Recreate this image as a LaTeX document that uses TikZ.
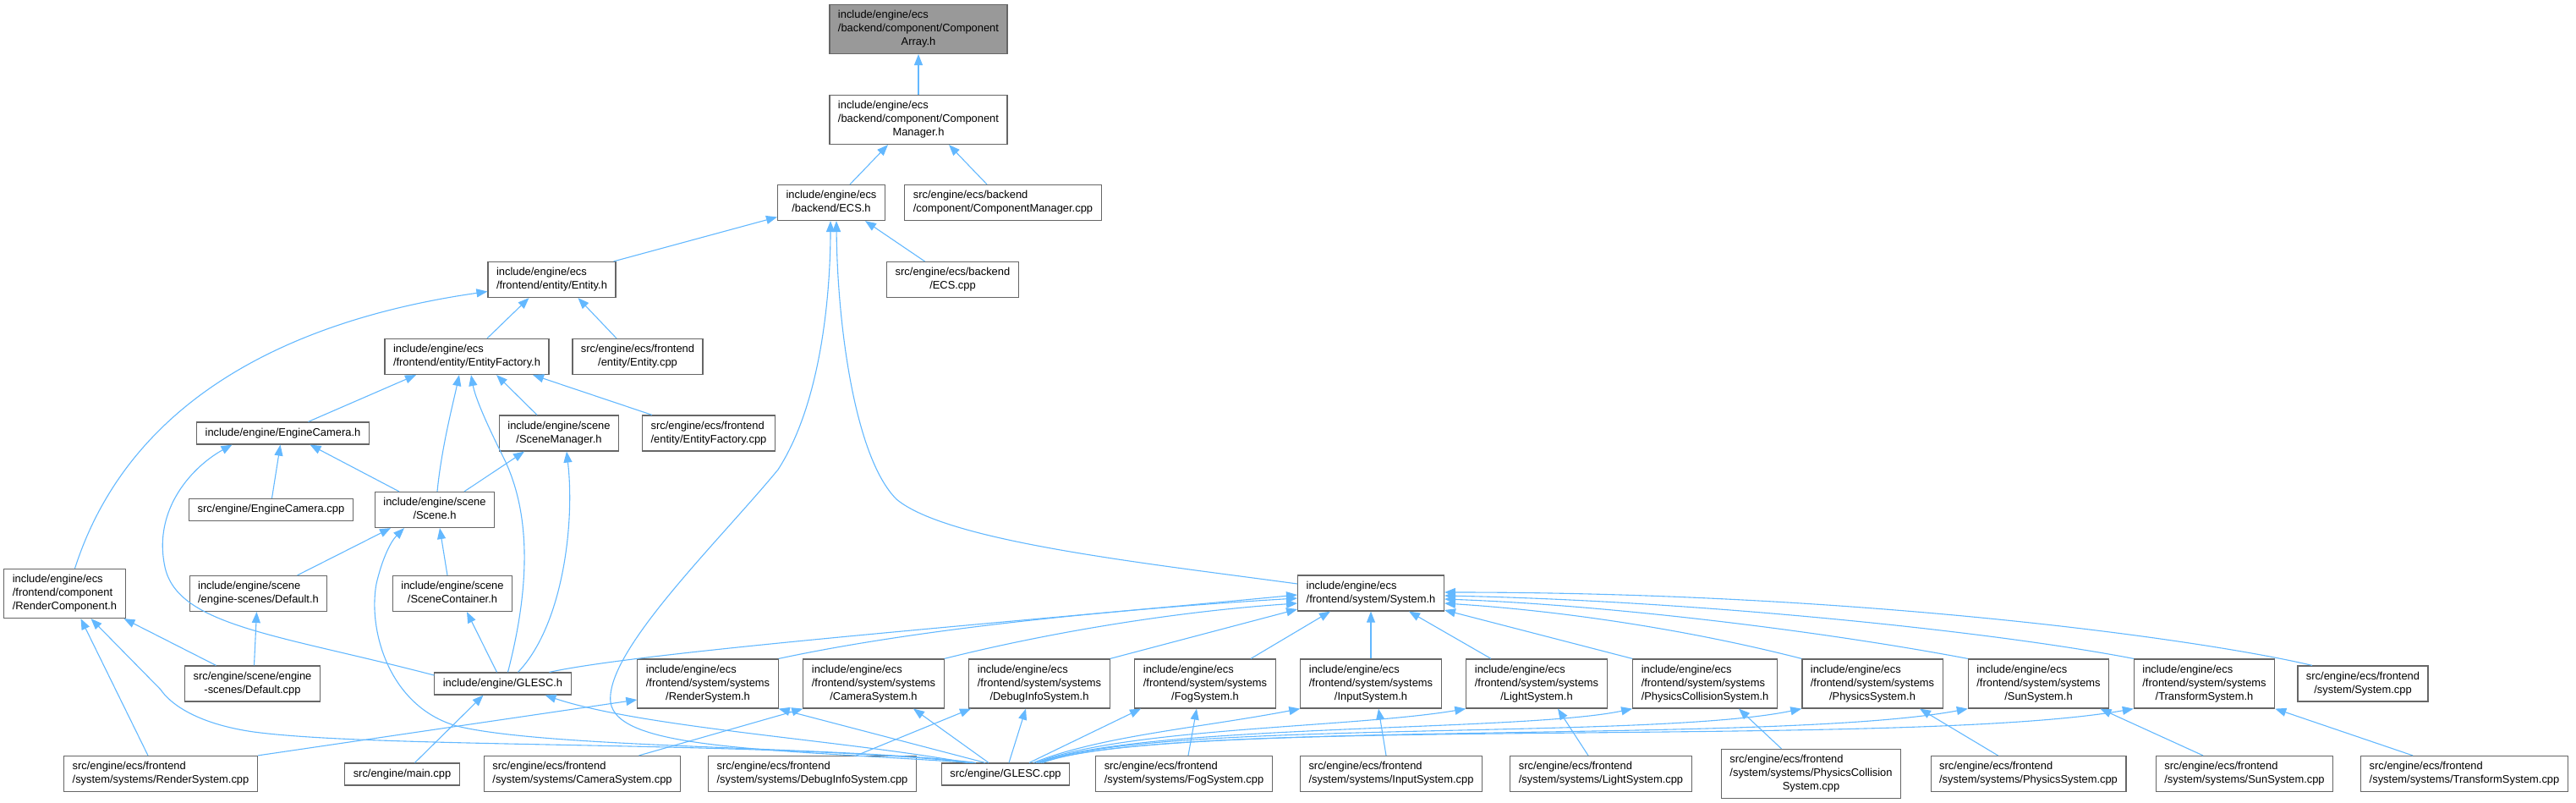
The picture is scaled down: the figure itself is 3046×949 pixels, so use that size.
\documentclass[tikz,border=0pt]{standalone}
\usepackage{fontspec}
\setmainfont{Liberation Sans}
\usepackage{xcolor}
\usetikzlibrary{positioning, arrows.meta}

\definecolor{edgeblue}{HTML}{63B8FF}
\definecolor{boxgray}{HTML}{666666}
\definecolor{curgray}{HTML}{999999}

\newcommand{\fname}[2]{\begin{tabular}{@{}l@{}}#1\\\multicolumn{1}{@{}c@{}}{#2}\end{tabular}}
\newcommand{\sname}[1]{\begin{tabular}{@{}c@{}}#1\end{tabular}}

\begin{document}
\begin{tikzpicture}[x=1pt, y=-1pt,
  file/.style={draw=boxgray, line width=1.2pt, fill=white, inner xsep=10pt, inner ysep=5pt, font={\fontsize{12.9}{16}\selectfont}},
  curfile/.style={file, fill=curgray},
  inc/.style={draw=edgeblue, line width=1.1pt, -{Triangle[length=13pt,width=10pt]}}]

\useasboundingbox (0,0) rectangle (3046,949);

\node[curfile] (carr) at (1086,34.5) {\fname{include/engine/ecs\\/backend/component/Component}{Array.h}};
\node[file] (cmgr) at (1086,141.5) {\fname{include/engine/ecs\\/backend/component/Component}{Manager.h}};
\node[file] (ecsh) at (983,239.5) {\fname{include/engine/ecs}{/backend/ECS.h}};
\node[file] (cmgrcpp) at (1186,239.5) {\fname{src/engine/ecs/backend}{/component/ComponentManager.cpp}};
\node[file] (ecscpp) at (1126.5,330.5) {\fname{src/engine/ecs/backend}{/ECS.cpp}};
\node[file] (enth) at (652.5,330.5) {\fname{include/engine/ecs}{/frontend/entity/Entity.h}};
\node[file] (efh) at (552,421.5) {\fname{include/engine/ecs}{/frontend/entity/EntityFactory.h}};
\node[file] (entcpp) at (754,421.5) {\fname{src/engine/ecs/frontend}{/entity/Entity.cpp}};
\node[file] (camh) at (334.5,512) {\sname{include/engine/EngineCamera.h}};
\node[file] (smh) at (661,512) {\fname{include/engine/scene}{/SceneManager.h}};
\node[file] (efcpp) at (838,512) {\fname{src/engine/ecs/frontend}{/entity/EntityFactory.cpp}};
\node[file] (camcpp) at (320.5,602.5) {\sname{src/engine/EngineCamera.cpp}};
\node[file] (sceneh) at (514,602.5) {\fname{include/engine/scene}{/Scene.h}};
\node[file] (rcomph) at (76.5,701.5) {\fname{include/engine/ecs\\/frontend/component}{/RenderComponent.h}};
\node[file] (defh) at (305.5,701.5) {\fname{include/engine/scene}{/engine-scenes/Default.h}};
\node[file] (sconth) at (535,701.5) {\fname{include/engine/scene}{/SceneContainer.h}};
\node[file] (sysh) at (1621,701) {\fname{include/engine/ecs}{/frontend/system/System.h}};
\node[file] (defcpp) at (298.5,808) {\fname{src/engine/scene/engine}{-scenes/Default.cpp}};
\node[file] (glh) at (594.5,808) {\sname{include/engine/GLESC.h}};

\node[file] (rsh) at (837,808) {\fname{include/engine/ecs\\/frontend/system/systems}{/RenderSystem.h}};
\node[file] (csh) at (1033,808) {\fname{include/engine/ecs\\/frontend/system/systems}{/CameraSystem.h}};
\node[file] (dih) at (1229,808) {\fname{include/engine/ecs\\/frontend/system/systems}{/DebugInfoSystem.h}};
\node[file] (fsh) at (1425,808) {\fname{include/engine/ecs\\/frontend/system/systems}{/FogSystem.h}};
\node[file] (ish) at (1621,808) {\fname{include/engine/ecs\\/frontend/system/systems}{/InputSystem.h}};
\node[file] (lsh) at (1817,808) {\fname{include/engine/ecs\\/frontend/system/systems}{/LightSystem.h}};
\node[file] (pch) at (2016,808) {\fname{include/engine/ecs\\/frontend/system/systems}{/PhysicsCollisionSystem.h}};
\node[file] (psh) at (2214,808) {\fname{include/engine/ecs\\/frontend/system/systems}{/PhysicsSystem.h}};
\node[file] (ssh) at (2410.5,808) {\fname{include/engine/ecs\\/frontend/system/systems}{/SunSystem.h}};
\node[file] (tsh) at (2606.5,808) {\fname{include/engine/ecs\\/frontend/system/systems}{/TransformSystem.h}};
\node[file] (syscpp) at (2794,808) {\fname{src/engine/ecs/frontend}{/system/System.cpp}};

\node[file] (rscpp) at (190,914.5) {\fname{src/engine/ecs/frontend}{/system/systems/RenderSystem.cpp}};
\node[file] (maincpp) at (475.5,915) {\sname{src/engine/main.cpp}};
\node[file] (cscpp) at (688.5,914.5) {\fname{src/engine/ecs/frontend}{/system/systems/CameraSystem.cpp}};
\node[file] (dicpp) at (960.5,914.5) {\fname{src/engine/ecs/frontend}{/system/systems/DebugInfoSystem.cpp}};
\node[file] (glcpp) at (1189,915) {\sname{src/engine/GLESC.cpp}};
\node[file] (fscpp) at (1400,914.5) {\fname{src/engine/ecs/frontend}{/system/systems/FogSystem.cpp}};
\node[file] (iscpp) at (1645,914.5) {\fname{src/engine/ecs/frontend}{/system/systems/InputSystem.cpp}};
\node[file] (lscpp) at (1893,914.5) {\fname{src/engine/ecs/frontend}{/system/systems/LightSystem.cpp}};
\node[file] (pccpp) at (2141.5,914.5) {\fname{src/engine/ecs/frontend\\/system/systems/PhysicsCollision}{System.cpp}};
\node[file] (pscpp) at (2398.5,914.5) {\fname{src/engine/ecs/frontend}{/system/systems/PhysicsSystem.cpp}};
\node[file] (sscpp) at (2654,914.5) {\fname{src/engine/ecs/frontend}{/system/systems/SunSystem.cpp}};
\node[file] (tscpp) at (2914,914.5) {\fname{src/engine/ecs/frontend}{/system/systems/TransformSystem.cpp}};

\draw[inc] (cmgr) -- (carr);
\draw[inc] ([xshift=22pt]ecsh.north) -- ([xshift=-36pt]cmgr.south);
\draw[inc] ([xshift=-19pt]cmgrcpp.north) -- ([xshift=36pt]cmgr.south);
\draw[inc] ([xshift=-3pt]enth.north east) -- ([yshift=-17pt]ecsh.west);
\draw[inc] ([xshift=-33pt]ecscpp.north) -- ([xshift=40pt]ecsh.south);
\draw[inc] ([xshift=-40pt]glcpp.north) .. controls (900,885) and (730,885) .. (722,830) .. controls (715,770) and (850,640) .. (920,555) .. controls (975,470) and (982,330) .. ([xshift=-1pt]ecsh.south);
\draw[inc] ([yshift=11pt]sysh.west) .. controls (1350,665) and (1120,640) .. (1060,590) .. controls (1010,540) and (990,380) .. ([xshift=6pt]ecsh.south);

\draw[inc] ([xshift=24pt]efh.north) -- ([xshift=-27pt]enth.south);
\draw[inc] ([xshift=-25pt]entcpp.north) -- ([xshift=31pt]enth.south);
\draw[inc] ([xshift=12pt]rcomph.north) .. controls (150,480) and (330,380) .. ([yshift=-14pt]enth.west);

\draw[inc] ([xshift=30pt]camh.north) -- ([xshift=-60pt]efh.south);
\draw[inc] ([xshift=3pt]sceneh.north) .. controls (522,530) and (535,480) .. ([xshift=-9pt]efh.south);
\draw[inc] ([xshift=6pt]glh.north) .. controls (625,700) and (630,610) .. (595,540) .. controls (575,500) and (562,470) .. ([xshift=5pt]efh.south);
\draw[inc] ([xshift=-26pt]smh.north) -- ([xshift=35pt]efh.south);
\draw[inc] ([xshift=-67pt]efcpp.north) -- ([xshift=78pt]efh.south);

\draw[inc] ([xshift=1pt]camcpp.north) -- ([xshift=-3pt]camh.south);
\draw[inc] ([xshift=-42pt]sceneh.north) -- ([xshift=32pt]camh.south);
\draw[inc] ([yshift=10pt]glh.west) .. controls (330,750) and (210,740) .. (195,670) .. controls (180,600) and (230,550) .. ([xshift=-60pt]camh.south);
\draw[inc] ([xshift=35pt]sceneh.north) -- ([xshift=-41pt]smh.south);
\draw[inc] ([xshift=18pt]glh.north) .. controls (665,740) and (680,620) .. ([xshift=9pt]smh.south);

\draw[inc] ([xshift=46pt]defh.north) -- ([xshift=-52pt]sceneh.south);
\draw[inc] ([xshift=-6pt]sconth.north) -- ([xshift=6pt]sceneh.south);
\draw[inc] ([xshift=-35pt]glcpp.north) .. controls (1000,882) and (650,885) .. (540,858) .. controls (460,835) and (435,745) .. (445,690) .. controls (452,660) and (462,640) .. ([xshift=-36pt]sceneh.south);

\draw[inc] ([xshift=2pt]defcpp.north) -- ([xshift=-2pt]defh.south);
\draw[inc] ([xshift=-43pt]defcpp.north) -- ([xshift=70pt]rcomph.south);
\draw[inc] ([xshift=-15pt]rscpp.north) -- ([xshift=19pt]rcomph.south);
\draw[inc] ([xshift=-38pt]glcpp.north) .. controls (900,875) and (450,885) .. (300,865) .. controls (230,855) and (200,830) .. (190,815) -- ([xshift=31pt]rcomph.south);

\draw[inc] (rscpp.north east) -- ([yshift=-19pt]rsh.west);
\draw[inc] ([xshift=15pt]maincpp.north) -- ([xshift=-23pt]glh.south);
\draw[inc] ([xshift=-45pt]glcpp.north) .. controls (1000,875) and (760,860) .. ([xshift=50pt]glh.south);
\draw[inc] ([xshift=-7pt]glh.north) -- ([xshift=17pt]sconth.south);

\draw[inc] ([xshift=55pt]glh.north) .. controls (760,770) and (1200,735) .. ([yshift=-2pt]sysh.west);
\draw[inc] (rsh.north east) .. controls (1100,740) and (1350,718) .. ([yshift=-6pt]sysh.west);
\draw[inc] (csh.north east) .. controls (1250,745) and (1400,722) .. ([yshift=-12pt]sysh.west);
\draw[inc] (dih.north east) -- ([yshift=-19pt]sysh.west);
\draw[inc] ([xshift=54pt]fsh.north) -- ([xshift=-48pt]sysh.south);
\draw[inc] (ish.north) -- (sysh.south);
\draw[inc] ([xshift=-54pt]lsh.north) -- ([xshift=45pt]sysh.south);
\draw[inc] (pch.north west) -- ([yshift=-20pt]sysh.east);
\draw[inc] (psh.north west) .. controls (2000,745) and (1850,722) .. ([yshift=-12pt]sysh.east);
\draw[inc] (ssh.north west) .. controls (2150,745) and (1900,715) .. ([yshift=-7pt]sysh.east);
\draw[inc] (tsh.north west) .. controls (2350,745) and (2000,710) .. ([yshift=-3pt]sysh.east);
\draw[inc] ([xshift=-60pt]syscpp.north) .. controls (2600,755) and (2200,700) .. ([yshift=1pt]sysh.east);

\draw[inc] ([xshift=-24pt]glcpp.north) -- (rsh.south east);
\draw[inc] ([xshift=-20pt]glcpp.north) -- ([xshift=47pt]csh.south);
\draw[inc] ([xshift=4pt]glcpp.north) -- ([xshift=-16pt]dih.south);
\draw[inc] ([xshift=28pt]glcpp.north) -- ([xshift=-76pt]fsh.south);
\draw[inc] ([xshift=33pt]glcpp.north) .. controls (1300,870) and (1420,860) .. (ish.south west);
\draw[inc] ([xshift=36pt]glcpp.north) .. controls (1330,860) and (1600,860) .. (lsh.south west);
\draw[inc] ([xshift=38pt]glcpp.north) .. controls (1350,855) and (1800,865) .. (pch.south west);
\draw[inc] ([xshift=40pt]glcpp.north) .. controls (1360,850) and (1950,875) .. (psh.south west);
\draw[inc] ([xshift=42pt]glcpp.north) .. controls (1370,850) and (2100,880) .. (ssh.south west);
\draw[inc] ([xshift=44pt]glcpp.north) .. controls (1380,845) and (2250,885) .. (tsh.south west);

\draw[inc] ([xshift=67pt]cscpp.north) -- (csh.south west);
\draw[inc] ([xshift=52pt]dicpp.north) -- ([xshift=-81pt]dih.south);
\draw[inc] ([xshift=5pt]fscpp.north) -- ([xshift=-10pt]fsh.south);
\draw[inc] ([xshift=-6pt]iscpp.north) -- ([xshift=9pt]ish.south);
\draw[inc] ([xshift=-15pt]lscpp.north) -- ([xshift=25pt]lsh.south);
\draw[inc] ([xshift=-35pt]pccpp.north) -- ([xshift=40pt]pch.south);
\draw[inc] ([xshift=-36pt]pscpp.north) -- ([xshift=56pt]psh.south);
\draw[inc] ([xshift=-49pt]sscpp.north) -- ([xshift=73pt]ssh.south);
\draw[inc] ([xshift=-61pt]tscpp.north) -- (tsh.south east);

\end{tikzpicture}
\end{document}
